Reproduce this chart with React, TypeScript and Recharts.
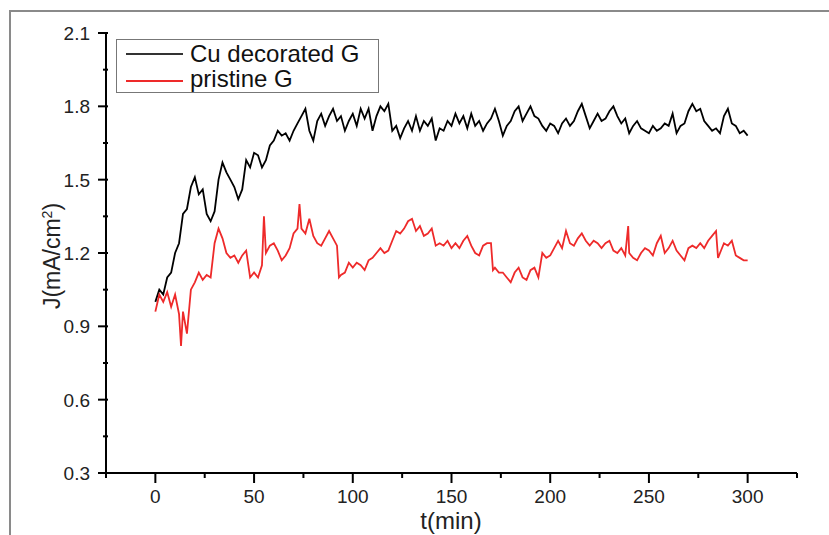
import React from 'react';
import { LineChart, Line, XAxis, YAxis } from 'recharts';

// Cu decorated G, every ~2 min
const cuTime = [
  0, 2, 4, 6, 8, 10, 12, 14, 16, 18, 20, 22, 24, 26, 28, 30, 32, 34, 36, 38,
  40, 42, 44, 46, 48, 50, 52, 54, 56, 58, 60, 62, 64, 66, 68, 70, 72, 74, 76, 78,
  80, 82, 84, 86, 88, 90, 92, 94, 96, 98, 100, 102, 104, 106, 108, 110, 112, 114, 116, 118,
  120, 122, 124, 126, 128, 130, 132, 134, 136, 138, 140, 142, 144, 146, 148, 150, 152, 154, 156, 158,
  160, 162, 164, 166, 168, 170, 172, 174, 176, 178, 180, 182, 184, 186, 188, 190, 192, 194, 196, 198,
  200, 202, 204, 206, 208, 210, 212, 214, 216, 218, 220, 222, 224, 226, 228, 230, 232, 234, 236, 238,
  240, 242, 244, 246, 248, 250, 252, 254, 256, 258, 260, 262, 264, 266, 268, 270, 272, 274, 276, 278,
  280, 282, 284, 286, 288, 290, 292, 294, 296, 298, 300,
];
const cuJ = [
  1.0, 1.05, 1.03, 1.1, 1.12, 1.2, 1.24, 1.36, 1.38, 1.47, 1.51, 1.44, 1.46, 1.36, 1.33, 1.37, 1.5, 1.57, 1.53, 1.5,
  1.47, 1.42, 1.46, 1.58, 1.55, 1.61, 1.6, 1.55, 1.58, 1.64, 1.66, 1.7, 1.68, 1.69, 1.66, 1.7, 1.73, 1.76, 1.79, 1.7,
  1.66, 1.74, 1.77, 1.72, 1.76, 1.79, 1.74, 1.76, 1.7, 1.74, 1.77, 1.72, 1.79, 1.75, 1.79, 1.7, 1.76, 1.8, 1.78, 1.81,
  1.7, 1.72, 1.67, 1.71, 1.74, 1.7, 1.76, 1.7, 1.74, 1.72, 1.75, 1.66, 1.71, 1.7, 1.74, 1.72, 1.77, 1.73, 1.76, 1.71,
  1.77, 1.72, 1.74, 1.7, 1.73, 1.75, 1.79, 1.74, 1.68, 1.72, 1.74, 1.78, 1.8, 1.74, 1.77, 1.8, 1.76, 1.75, 1.72, 1.7,
  1.73, 1.72, 1.69, 1.73, 1.75, 1.72, 1.74, 1.78, 1.81, 1.76, 1.71, 1.74, 1.77, 1.74, 1.75, 1.78, 1.8, 1.76, 1.73, 1.75,
  1.69, 1.72, 1.74, 1.71, 1.7, 1.69, 1.72, 1.7, 1.71, 1.73, 1.72, 1.77, 1.69, 1.72, 1.73, 1.78, 1.81, 1.78, 1.79, 1.74,
  1.72, 1.7, 1.71, 1.69, 1.76, 1.79, 1.73, 1.72, 1.69, 1.7, 1.68,
];

// pristine G
const prTime = [
  0, 2, 4, 6, 8, 10, 12, 13, 14, 16, 18, 20, 22, 24, 26, 28, 30, 32, 34, 36, 38,
  40, 42, 44, 46, 48, 50, 52, 54, 55, 56, 58, 60, 62, 64, 66, 68, 70, 72, 73, 74, 76, 78,
  80, 82, 84, 86, 88, 90, 92, 93, 94, 96, 98, 100, 102, 104, 106, 108, 110, 112, 114, 116, 118,
  120, 122, 124, 126, 128, 130, 132, 134, 136, 138, 140, 142, 144, 146, 148, 150, 152, 154, 156, 158,
  160, 162, 164, 166, 168, 170, 171, 172, 174, 176, 178, 180, 182, 184, 186, 188, 190, 192, 194, 196, 198,
  200, 202, 204, 206, 208, 210, 212, 214, 216, 218, 220, 222, 224, 226, 228, 230, 232, 234, 236, 238, 239.5,
  240, 242, 244, 246, 248, 250, 252, 254, 256, 258, 260, 262, 264, 266, 268, 270, 272, 274, 276, 278,
  280, 282, 284, 285, 286, 288, 290, 292, 294, 296, 298, 300,
];
const prJ = [
  0.96, 1.03, 1.0, 1.04, 0.98, 1.03, 0.95, 0.82, 0.96, 0.87, 1.05, 1.08, 1.12, 1.09, 1.11, 1.1, 1.24, 1.3, 1.26, 1.2, 1.18,
  1.19, 1.16, 1.19, 1.21, 1.1, 1.12, 1.1, 1.15, 1.35, 1.2, 1.23, 1.24, 1.21, 1.17, 1.19, 1.22, 1.28, 1.3, 1.4, 1.3, 1.28, 1.34,
  1.27, 1.24, 1.23, 1.26, 1.29, 1.26, 1.23, 1.1, 1.11, 1.12, 1.16, 1.14, 1.16, 1.15, 1.13, 1.17, 1.18, 1.2, 1.22, 1.2, 1.21,
  1.25, 1.29, 1.28, 1.3, 1.33, 1.34, 1.29, 1.31, 1.27, 1.28, 1.3, 1.23, 1.24, 1.23, 1.25, 1.22, 1.24, 1.22, 1.25, 1.27,
  1.23, 1.2, 1.19, 1.23, 1.24, 1.24, 1.13, 1.14, 1.12, 1.12, 1.1, 1.08, 1.12, 1.14, 1.1, 1.09, 1.13, 1.14, 1.1, 1.2, 1.18,
  1.19, 1.22, 1.25, 1.22, 1.29, 1.24, 1.23, 1.26, 1.28, 1.25, 1.23, 1.25, 1.24, 1.22, 1.24, 1.25, 1.21, 1.2, 1.22, 1.19, 1.31,
  1.2, 1.18, 1.17, 1.2, 1.22, 1.21, 1.19, 1.24, 1.27, 1.2, 1.22, 1.25, 1.21, 1.19, 1.17, 1.22, 1.23, 1.22, 1.24, 1.22,
  1.25, 1.27, 1.29, 1.18, 1.2, 1.24, 1.23, 1.25, 1.19, 1.18, 1.17, 1.17,
];

const xTicks = [-25, 0, 25, 50, 75, 100, 125, 150, 175, 200, 225, 250, 275, 300, 325];
const yTicks = [0.3, 0.45, 0.6, 0.75, 0.9, 1.05, 1.2, 1.35, 1.5, 1.65, 1.8, 1.95, 2.1];

const cuData = cuTime.map((t, i) => ({ t, j: cuJ[i] }));
const prData = prTime.map((t, i) => ({ t, j: prJ[i] }));

const RED = '#ee2a2a';
const FONT = '"Liberation Sans", Arial, sans-serif';

const XTick = (p: any) => {
  const v = p.payload.value;
  const major = v % 50 === 0;
  return (
    <g>
      <line x1={p.x} x2={p.x} y1={p.y - 8} y2={p.y + (major ? 2 : -3)} stroke="#000" strokeWidth={2} />
      {major && v >= 0 && v <= 300 && (
        <text x={p.x} y={p.y + 22} textAnchor="middle" fontSize={19} fontFamily={FONT} fill="#222">{v}</text>
      )}
    </g>
  );
};

const YTick = (p: any) => {
  const v = p.payload.value;
  const major = Math.round(v * 100) % 30 === 0;
  return (
    <g>
      <line x1={p.x + 10} x2={p.x + (major ? 0 : 5)} y1={p.y} y2={p.y} stroke="#000" strokeWidth={2} />
      {major && (
        <text x={p.x - 8} y={p.y + 7} textAnchor="end" fontSize={19} fontFamily={FONT} fill="#222">{v.toFixed(1)}</text>
      )}
    </g>
  );
};

export default function App() {
  return (
    <div style={{ position: 'absolute', left: 0, top: 0, width: 829, height: 535, background: '#fff', fontFamily: FONT }}>
      {/* outer frame */}
      <div style={{ position: 'absolute', left: 9, top: 10, width: 820, height: 525, borderTop: '2px solid #8a8a8a', borderLeft: '2px solid #8a8a8a' }} />
      <LineChart width={829} height={535} data={cuData} margin={{ top: 33, right: 32, bottom: 22, left: 46 }}>
        <XAxis dataKey="t" type="number" domain={[-25, 325]} ticks={xTicks} allowDataOverflow
          stroke="#000" strokeWidth={2} tickLine={false} tick={<XTick />} height={40} interval={0} />
        <XAxis xAxisId="top" orientation="top" type="number" domain={[-25, 325]} tick={false} tickLine={false}
          stroke="#000" strokeWidth={2} height={0} />
        <YAxis dataKey="j" type="number" domain={[0.3, 2.1]} ticks={yTicks} allowDataOverflow
          stroke="#000" strokeWidth={2} tickLine={false} tick={<YTick />} width={60} interval={0} />
        <YAxis yAxisId="right" orientation="right" type="number" domain={[0.3, 2.1]} tick={false} tickLine={false}
          stroke="#000" strokeWidth={2} width={0} />
        <Line data={cuData} dataKey="j" type="linear" stroke="#000" strokeWidth={1.8} dot={false} isAnimationActive={false} />
        <Line data={prData} dataKey="j" type="linear" stroke={RED} strokeWidth={1.8} dot={false} isAnimationActive={false} />
        <text x={60} y={256} transform="rotate(-90 60 256)" textAnchor="middle" fontSize={23} fontFamily={FONT} fill="#222">
          J(mA/cm<tspan dy={-8} fontSize={14}>2</tspan><tspan dy={8}>)</tspan>
        </text>
        <text x={451} y={529} textAnchor="middle" fontSize={24} fontFamily={FONT} fill="#222">t(min)</text>
      </LineChart>
      {/* legend */}
      <div style={{ position: 'absolute', left: 116, top: 39, width: 263, height: 54, border: '1px solid #777', boxSizing: 'border-box', background: '#fff' }}>
        <div style={{ position: 'absolute', left: 9, top: 13, width: 57, height: 1.5, background: '#333' }} />
        <div style={{ position: 'absolute', left: 73, top: 0, fontSize: 24, lineHeight: '27px', color: '#111', whiteSpace: 'nowrap' }}>Cu decorated G</div>
        <div style={{ position: 'absolute', left: 9, top: 40, width: 57, height: 1.5, background: RED }} />
        <div style={{ position: 'absolute', left: 73, top: 25, fontSize: 24, lineHeight: '27px', color: '#111', whiteSpace: 'nowrap' }}>pristine G</div>
      </div>
    </div>
  );
}
